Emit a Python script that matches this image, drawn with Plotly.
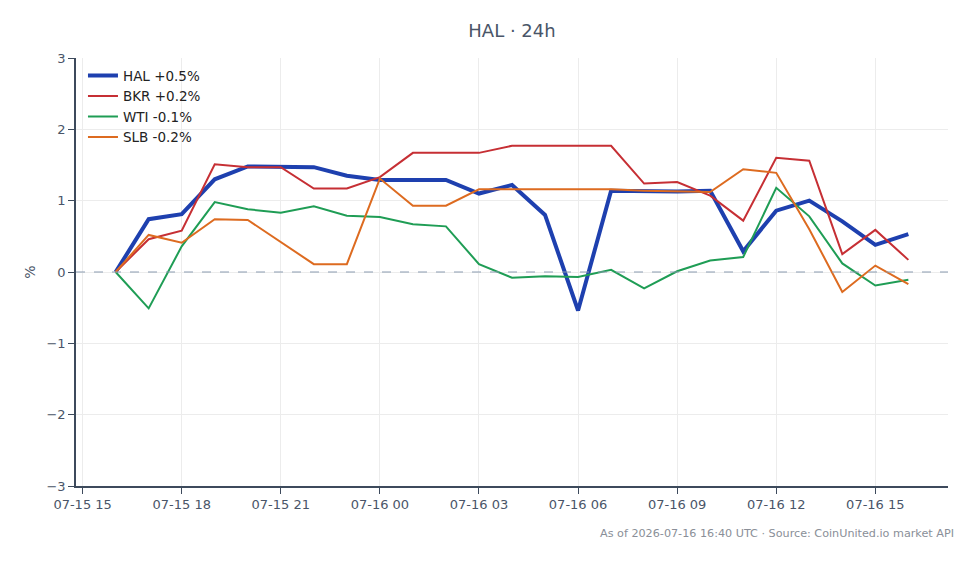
import plotly.graph_objects as go
import pandas as pd

times = pd.date_range("2026-07-15 16:00", "2026-07-16 16:00", freq="h")

hal = [0, 0.74, 0.81, 1.30, 1.48, 1.48, 1.47, 1.35, 1.29, 1.29, 1.29, 1.10, 1.22,
       0.80, -0.54, 1.14, 1.13, 1.13, 1.14, 0.29, 0.86, 1.00, 0.71, 0.38, 0.53]
bkr = [0, 0.46, 0.58, 1.51, 1.47, 1.47, 1.17, 1.17, 1.33, 1.67, 1.67, 1.67, 1.77,
       1.77, 1.77, 1.77, 1.24, 1.26, 1.07, 0.72, 1.60, 1.56, 0.25, 0.59, 0.17]
wti = [0, -0.51, 0.36, 0.98, 0.88, 0.83, 0.92, 0.79, 0.77, 0.67, 0.64, 0.11, -0.08,
       -0.06, -0.07, 0.03, -0.23, 0.01, 0.16, 0.21, 1.18, 0.78, 0.12, -0.19, -0.11]
slb = [0, 0.52, 0.41, 0.74, 0.73, 0.42, 0.11, 0.11, 1.31, 0.93, 0.93, 1.16, 1.16,
       1.16, 1.16, 1.16, 1.14, 1.13, 1.12, 1.44, 1.39, 0.60, -0.28, 0.09, -0.17]

series = [
    ("HAL +0.5%", hal, "#1e40af", 4),
    ("BKR +0.2%", bkr, "#c62f34", 2),
    ("WTI -0.1%", wti, "#1f9d55", 2),
    ("SLB -0.2%", slb, "#dd6b20", 2),
]

fig = go.Figure()
for name, vals, color, w in series:
    fig.add_trace(go.Scatter(x=times, y=vals, mode="lines", name=name,
                             line=dict(color=color, width=w)))

fig.add_hline(y=0, line=dict(color="#8a9bb0", width=1, dash="dash"))

axis_common = dict(showline=True, linecolor="#3d4a5c", linewidth=1.5,
                   ticks="outside", tickcolor="#3d4a5c", ticklen=6,
                   showgrid=True, gridcolor="#ececec",
                   tickfont=dict(family="DejaVu Sans", size=13, color="#4a5568"),
                   zeroline=False)

fig.update_xaxes(**axis_common, tickformat="%m-%d %H", dtick=3 * 3600 * 1000,
                 tick0="2026-07-15 15:00",
                 range=["2026-07-15 14:48", "2026-07-16 17:12"])
fig.update_yaxes(**axis_common, range=[-3, 3], dtick=1,
                 title=dict(text="%", font=dict(family="DejaVu Sans", size=14, color="#4a5568"),
                            standoff=8))

fig.update_layout(
    width=980, height=564,
    margin=dict(l=76, r=32, t=58, b=78),
    paper_bgcolor="white", plot_bgcolor="white",
    title=dict(text="HAL · 24h", x=0.5, xref="paper", y=1 - 31 / 564, yanchor="middle",
               font=dict(family="DejaVu Sans", size=18, color="#4a5568")),
    legend=dict(x=0.008, y=0.995, xanchor="left", yanchor="top",
                bgcolor="rgba(255,255,255,0)",
                font=dict(family="DejaVu Sans", size=13.5, color="#222")),
    font=dict(family="DejaVu Sans"),
    showlegend=True,
)

fig.add_annotation(text="As of 2026-07-16 16:40 UTC · Source: CoinUnited.io market API",
                   xref="paper", yref="paper", x=1.009, y=-0.11, xanchor="right",
                   yanchor="middle", showarrow=False,
                   font=dict(family="DejaVu Sans", size=11.2, color="#8a8f98"))

fig.write_html("out.html")
